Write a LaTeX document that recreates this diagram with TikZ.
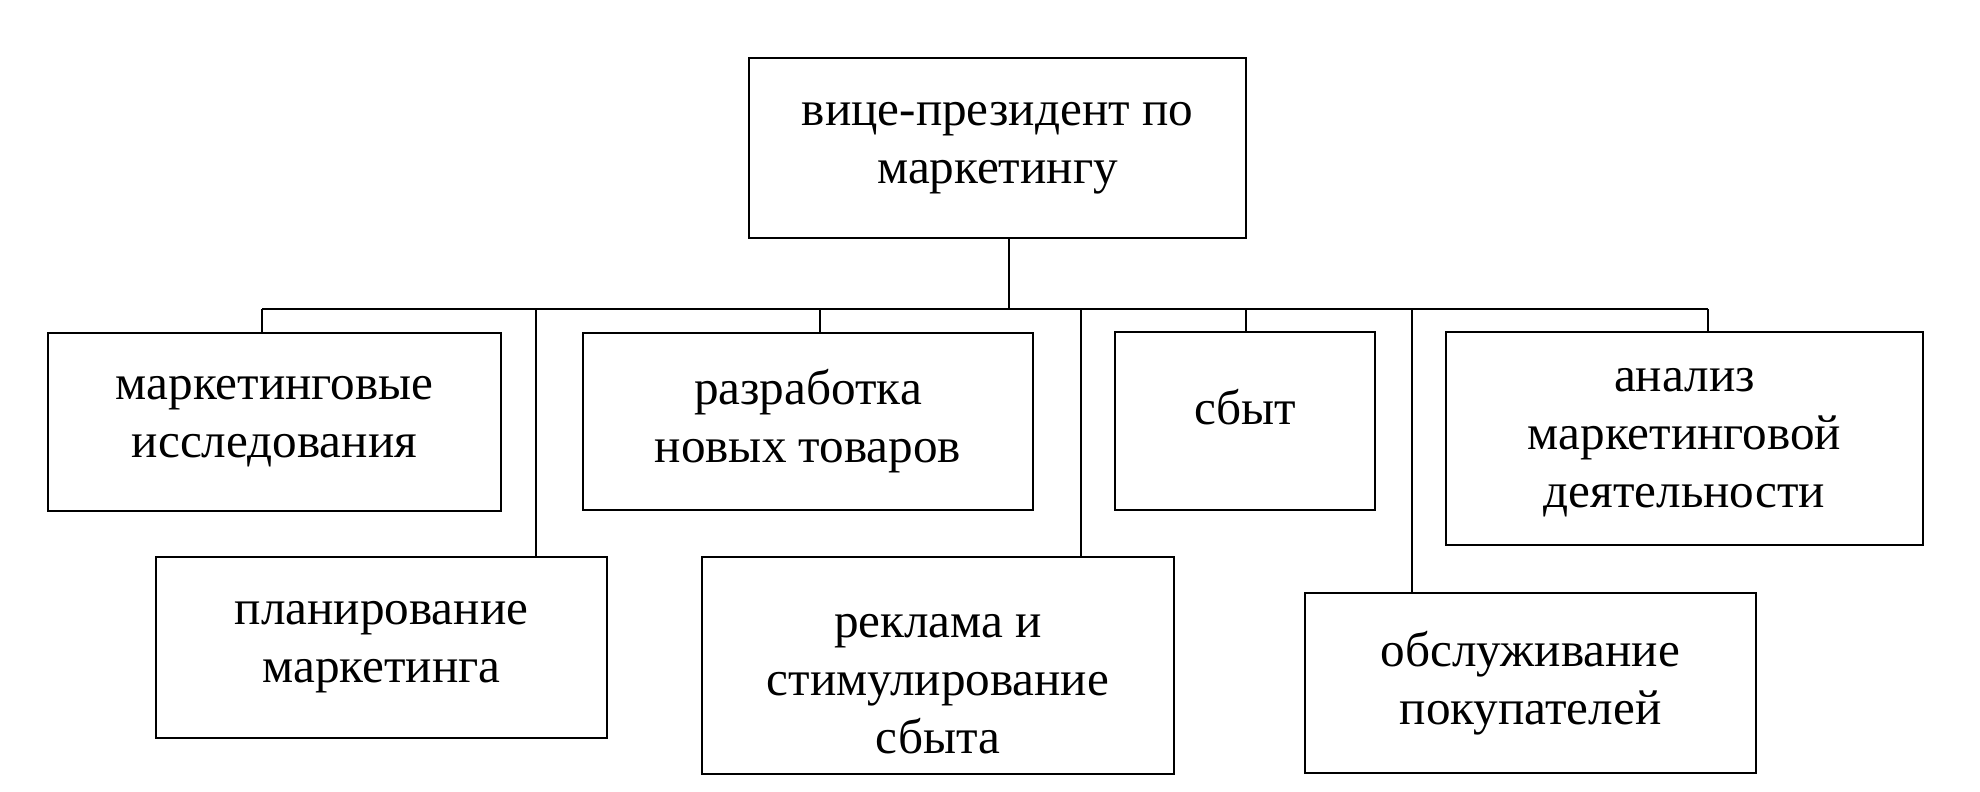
\documentclass[tikz,border=0pt]{standalone}
\usepackage{fontspec}
\setmainfont{Liberation Serif}
\usepackage{tikz}

\begin{document}
\begin{tikzpicture}[x=0.02cm, y=-0.02cm,
  box/.style={draw, line width=1.5pt, align=center, inner sep=0pt,
    font=\fontsize{28}{33}\selectfont},
  link/.style={line width=1pt}]

\useasboundingbox (0,0) rectangle (1980,791);

\node[box, minimum width=9.94cm, minimum height=3.6cm] (vp) at (997.5,148) {вице-президент по\\маркетингу};

\node[box, minimum width=9.06cm, minimum height=3.56cm] (research) at (274.5,422) {маркетинговые\\исследования};

\node[box, minimum width=9.02cm, minimum height=3.62cm] (planning) at (381.5,647.5) {планирование\\маркетинга};

\node[box, minimum width=9cm, minimum height=3.54cm] (newgoods) at (808,421.5) {разработка\\новых товаров};

\node[box, minimum width=9.44cm, minimum height=4.34cm] (promo) at (938,665.5) {\rule{0pt}{34pt}реклама и\\стимулирование\\сбыта};

\node[box, minimum width=5.2cm, minimum height=3.56cm, text height=19pt, text depth=15pt] (sales) at (1245,421) {сбыт};

\node[box, minimum width=9.02cm, minimum height=3.6cm] (service) at (1530.5,683) {обслуживание\\покупателей};

\node[box, minimum width=9.54cm, minimum height=4.26cm] (analysis) at (1684.5,438.5) {\rule{0pt}{18pt}анализ\\маркетинговой\\деятельности};

\coordinate (bvp) at (1009,309);
\coordinate (bresearch) at (262,309);
\coordinate (bplanning) at (536,309);
\coordinate (bnewgoods) at (820,309);
\coordinate (bpromo) at (1081,309);
\coordinate (bsales) at (1246,309);
\coordinate (bservice) at (1412,309);
\coordinate (banalysis) at (1708,309);

\draw[link] (bresearch) -- (banalysis);
\draw[link] (vp.south -| bvp) -- (bvp);
\draw[link] (bresearch) -- (bresearch |- research.north);
\draw[link] (bplanning) -- (bplanning |- planning.north);
\draw[link] (bnewgoods) -- (bnewgoods |- newgoods.north);
\draw[link] (bpromo) -- (bpromo |- promo.north);
\draw[link] (bsales) -- (bsales |- sales.north);
\draw[link] (bservice) -- (bservice |- service.north);
\draw[link] (banalysis) -- (banalysis |- analysis.north);

\end{tikzpicture}
\end{document}
